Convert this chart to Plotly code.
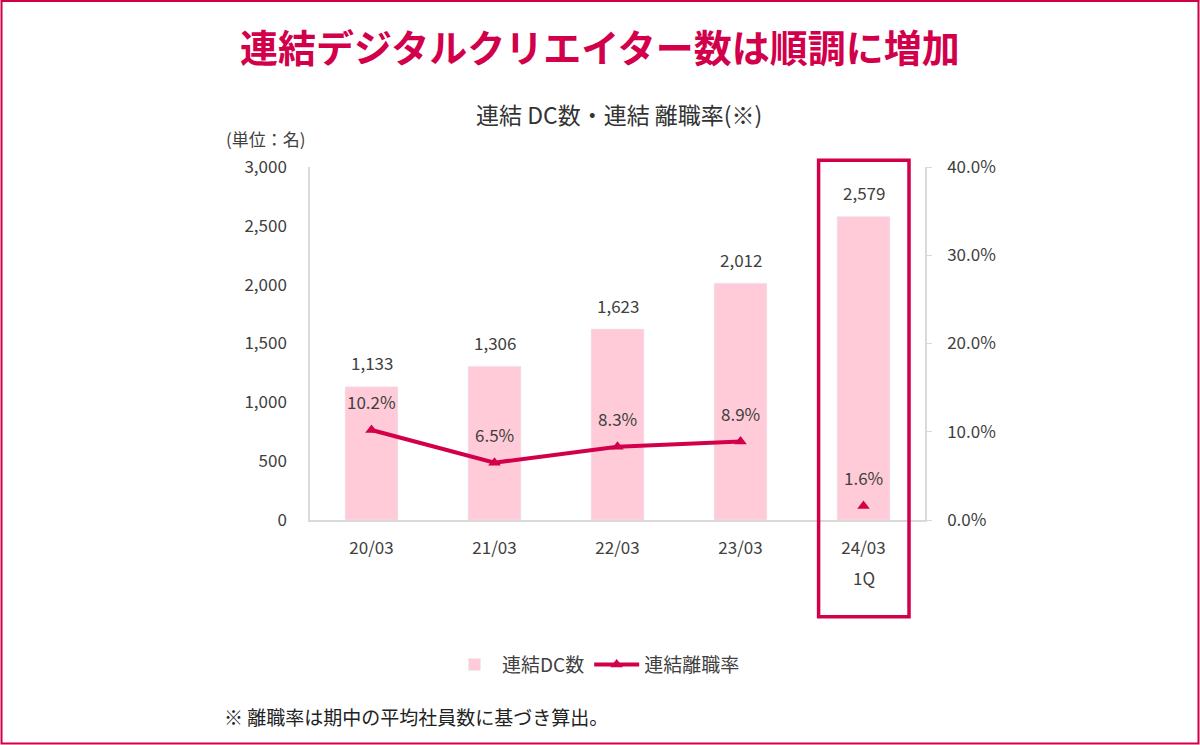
import plotly.graph_objects as go

categories = ["20/03", "21/03", "22/03", "23/03", "24/03<br>1Q"]
dc_count = [1133, 1306, 1623, 2012, 2579]
turnover = [0.102, 0.065, 0.083, 0.089, 0.016]

red = "#d2004b"
pink = "#ffcbd8"
gray_txt = "#404040"
font = "Noto Sans CJK JP"

# first line of each category shown as tick, second line (1Q) as note below
tick_text = [c.split("<br>")[0] for c in categories]

fig = go.Figure()

fig.add_trace(go.Bar(name="連結DC数", x=categories, y=dc_count, marker_color=pink,
                     width=0.43, hoverinfo="skip"))
fig.add_trace(go.Scatter(name="連結離職率", x=categories[:4], y=turnover[:4], yaxis="y2",
                         mode="lines+markers", line=dict(color=red, width=4),
                         marker=dict(symbol="triangle-up", size=11, color=red)))
fig.add_trace(go.Scatter(x=categories[4:], y=turnover[4:], yaxis="y2", mode="markers",
                         marker=dict(symbol="triangle-up", size=11, color=red),
                         showlegend=False))

ann = []
for c, v in zip(categories, dc_count):
    ann.append(dict(x=c, y=v, yref="y", text=f"{v:,}", showarrow=False, yshift=24,
                    font=dict(size=17, color=gray_txt)))
for c, v in zip(categories, turnover):
    ann.append(dict(x=c, y=v, yref="y2", text=f"{v*100:.1f}%", showarrow=False, yshift=28,
                    font=dict(size=17, color=gray_txt)))
for c in categories:
    parts = c.split("<br>")
    if len(parts) > 1:
        ann.append(dict(x=c, xref="x", yref="paper", y=-0.1615, text=parts[1], showarrow=False,
                        yanchor="middle", font=dict(size=17, color=gray_txt)))

# titles and notes
ann.append(dict(xref="paper", yref="paper", x=0.4715, y=1.3456, text="<b>連結デジタルクリエイター数は順調に増加</b>",
                showarrow=False, font=dict(size=38, color=red), xanchor="center", yanchor="middle"))
ann.append(dict(xref="paper", yref="paper", x=0.503, y=1.15, text="連結 DC数・連結 離職率(※)",
                showarrow=False, font=dict(size=23, color="#333333"), xanchor="center", yanchor="middle"))
ann.append(dict(xref="paper", yref="paper", x=-0.072, y=1.081, text="(単位：名)",
                showarrow=False, font=dict(size=17, color=gray_txt), xanchor="center", yanchor="middle"))
ann.append(dict(xref="paper", yref="paper", x=-0.143, y=-0.558, text="※ 離職率は期中の平均社員数に基づき算出。",
                showarrow=False, font=dict(size=19, color="#222222"), xanchor="left", yanchor="middle"))

shapes = [
    # outer frame
    dict(type="rect", xref="paper", yref="paper", x0=-0.5016, x1=1.4447, y0=-0.6331, y1=1.4703,
         line=dict(color=red, width=2)),
    # highlight for latest period
    dict(type="rect", xref="x", yref="paper", x0=3.635, x1=4.37, y0=-0.274, y1=1.019,
         line=dict(color=red, width=3.5)),
]

fig.update_layout(
    width=1200, height=745,
    margin=dict(l=310, r=275, t=167, b=225),
    paper_bgcolor="white", plot_bgcolor="white",
    font=dict(family=font, size=17, color=gray_txt),
    annotations=ann, shapes=shapes,
    showlegend=True,
    legend=dict(orientation="h", x=0.465, y=-0.41, xanchor="center", yanchor="middle",
                font=dict(size=19, color=gray_txt), itemwidth=45),
    xaxis=dict(showline=True, linecolor="#d9d9d9", linewidth=1.5, ticks="",
               tickmode="array", tickvals=categories, ticktext=tick_text,
               ticklabelstandoff=12, tickfont=dict(size=17, color=gray_txt)),
    yaxis=dict(range=[0, 3000], dtick=500, tickformat=",", showgrid=False, zeroline=False,
               showline=True, linecolor="#d9d9d9", linewidth=1.5, ticks="",
               ticklabelstandoff=18, tickfont=dict(size=17, color=gray_txt)),
    yaxis2=dict(range=[0, 0.4], dtick=0.1, tickformat=".1%", overlaying="y", side="right",
                showgrid=False, zeroline=False, showline=True, linecolor="#d9d9d9", linewidth=1.5,
                ticks="outside", ticklen=5, tickcolor="#d9d9d9", ticklabelstandoff=12,
                tickfont=dict(size=17, color=gray_txt)),
)

fig.write_html("out.html", config={"displayModeBar": False},
               post_script="document.body.style.margin='0';")
